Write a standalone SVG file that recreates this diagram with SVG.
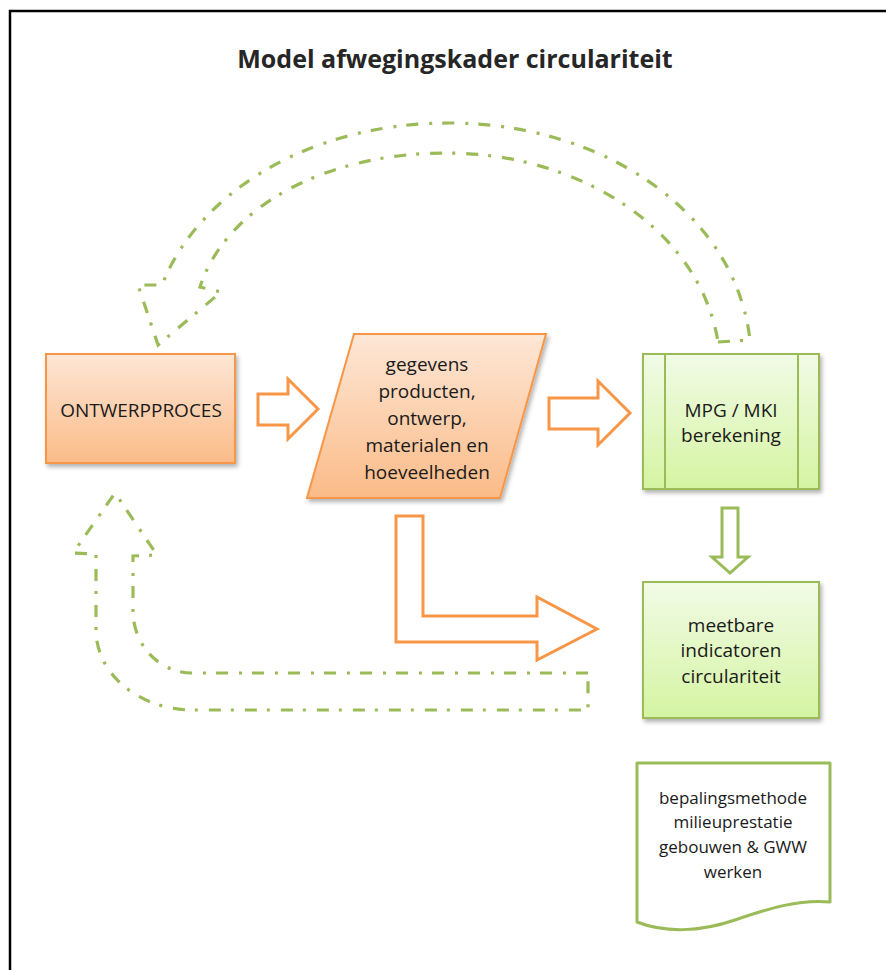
<svg xmlns="http://www.w3.org/2000/svg" width="886" height="970" viewBox="0 0 886 970">
  <defs>
    <linearGradient id="gOrange" x1="0" y1="0" x2="0" y2="1">
      <stop offset="0" stop-color="#fde7d6"/>
      <stop offset="1" stop-color="#fbbb88"/>
    </linearGradient>
    <linearGradient id="gGreen" x1="0" y1="0" x2="0" y2="1">
      <stop offset="0" stop-color="#f1fbe6"/>
      <stop offset="1" stop-color="#d5f4a2"/>
    </linearGradient>
    <filter id="shadow" x="-10%" y="-10%" width="125%" height="130%">
      <feDropShadow dx="2" dy="3" stdDeviation="2" flood-color="#000" flood-opacity="0.3"/>
    </filter>
  </defs>
  <style>
    .frame { fill: none; stroke: #000; stroke-width: 2.5; }
    .title { font-family: "Open Sans", "Noto Sans", sans-serif; font-weight: bold; font-size: 25px; fill: #262626; text-anchor: middle; }
    .lbl { font-family: "Open Sans", "Noto Sans", sans-serif; font-size: 19px; fill: #1a1a1a; text-anchor: middle; }
    .doc { font-family: "Open Sans", "Noto Sans", sans-serif; font-size: 17px; fill: #1a1a1a; text-anchor: middle; }
    .orange { fill: url(#gOrange); stroke: #f79646; stroke-width: 2; }
    .green { fill: url(#gGreen); stroke: #9bbb59; stroke-width: 2; }
    .blockO { fill: #fff; stroke: #f79646; stroke-width: 3; stroke-linejoin: miter; }
    .blockG { fill: #fff; stroke: #9bbb59; stroke-width: 3; stroke-linejoin: miter; }
    .loop { fill: none; stroke: #9bbb59; stroke-width: 3.2; stroke-dasharray: 12 10 3 11; stroke-linejoin: miter; }
  </style>

  <rect width="886" height="970" fill="#fff"/>
  <!-- outer frame (continues past right and bottom edge) -->
  <path class="frame" d="M10,980 L10,11 L896,11"/>

  <text class="title" x="455" y="68">Model afwegingskader circulariteit</text>

  <!-- connectors -->
  <g id="connectors">
    <!-- feedback loop: MPG / MKI back to ontwerpproces -->
    <path class="loop" d="M718,342 L750,340 C735,210 600,123 450,123 C300,123 195,200 162,285 L138,285 L158,345 L221,292 L200,287 C225,210 320,153 447,153 C580,153 700,230 718,342 Z"/>
    <!-- feedback loop: indicatoren back to ontwerpproces -->
    <path class="loop" d="M588,673 L192,673 A59,62 0 0 1 133,611 L133,556 L157,555 L115,493 L73,553 L96,554 L96,630 A97,80 0 0 0 193,710 L588,710 Z"/>
    <!-- ontwerpproces -> gegevens -->
    <path class="blockO" d="M258,394 L288,394 L288,379 L318,409 L288,439 L288,425 L258,425 Z"/>
    <!-- gegevens -> MPG / MKI -->
    <path class="blockO" d="M549,398 L598,398 L598,381 L630,413 L598,445 L598,429 L549,429 Z"/>
    <!-- gegevens -> indicatoren -->
    <path class="blockO" d="M396,516 L423,516 L423,616 L537,616 L537,597 L597,629 L537,660 L537,642 L396,642 Z"/>
    <!-- MPG / MKI -> indicatoren -->
    <path class="blockG" d="M722,508 L738,508 L738,557 L748,557 L730,573 L712,557 L722,557 Z"/>
  </g>

  <g id="ontwerpproces">
    <rect class="orange" x="46" y="354" width="189" height="109" filter="url(#shadow)"/>
    <text class="lbl" x="141" y="417">ONTWERPPROCES</text>
  </g>

  <g id="gegevens">
    <polygon class="orange" points="354,334 546,334 500,498 307,498" filter="url(#shadow)"/>
    <text class="lbl" x="427" y="371">gegevens</text>
    <text class="lbl" x="427" y="398">producten,</text>
    <text class="lbl" x="427" y="425">ontwerp,</text>
    <text class="lbl" x="427" y="452">materialen en</text>
    <text class="lbl" x="427" y="479">hoeveelheden</text>
  </g>

  <g id="mpg-mki">
    <rect class="green" x="643" y="354" width="176" height="135" filter="url(#shadow)"/>
    <line x1="665" y1="354" x2="665" y2="489" stroke="#9bbb59" stroke-width="2"/>
    <line x1="798" y1="354" x2="798" y2="489" stroke="#9bbb59" stroke-width="2"/>
    <text class="lbl" x="731" y="417">MPG / MKI</text>
    <text class="lbl" x="731" y="442">berekening</text>
  </g>

  <g id="indicatoren">
    <rect class="green" x="643" y="582" width="176" height="136" filter="url(#shadow)"/>
    <text class="lbl" x="731" y="632">meetbare</text>
    <text class="lbl" x="731" y="657">indicatoren</text>
    <text class="lbl" x="731" y="683">circulariteit</text>
  </g>

  <g id="bepalingsmethode">
    <path d="M637,763 L830,763 L830,902 C800,899 770,908 735,920 C700,932 665,933 637,922 Z" fill="#fff" stroke="#9bbb59" stroke-width="3" stroke-linejoin="round"/>
    <text class="doc" x="733" y="804">bepalingsmethode</text>
    <text class="doc" x="733" y="828">milieuprestatie</text>
    <text class="doc" x="733" y="853">gebouwen &amp; GWW</text>
    <text class="doc" x="733" y="878">werken</text>
  </g>
</svg>
